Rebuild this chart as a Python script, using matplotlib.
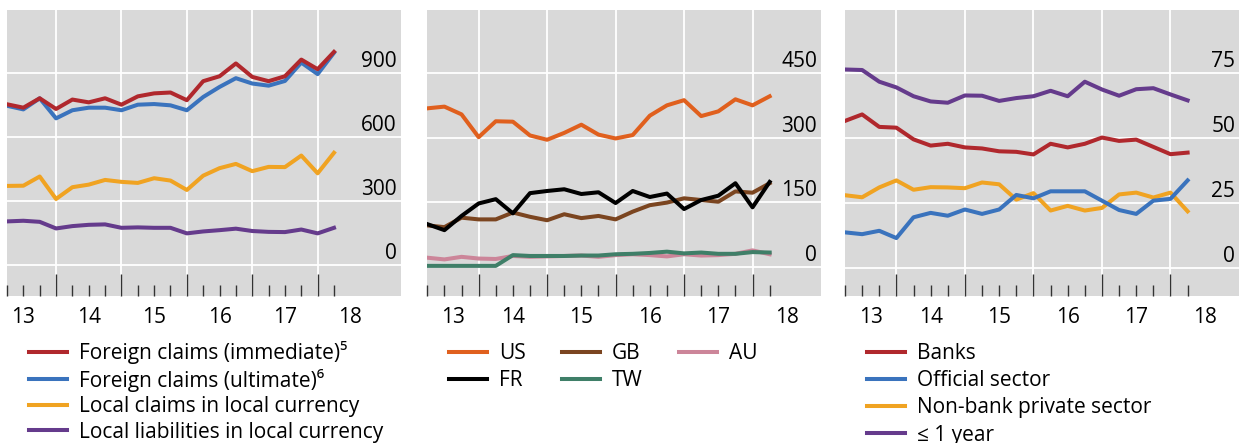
import numpy as np
import matplotlib
matplotlib.use('Agg')
import matplotlib.pyplot as plt

# fonts
FONT = 'Open Sans'
plt.rcParams['font.family'] = [FONT, 'DejaVu Sans']

# quarter-end dates 2013Q1 .. 2018Q1
dates = np.arange(2013.25, 2018.26, 0.25)
year_labels = ['13', '14', '15', '16', '17', '18']

# panel 1, USD bn
claims_immediate = [753, 737, 781, 731, 775, 762, 781, 751, 790, 804, 808, 772,
                    861, 884, 944, 881, 861, 884, 962, 917, 998]
claims_ultimate = [746, 729, 781, 687, 725, 737, 737, 725, 751, 754, 748, 725,
                   787, 834, 875, 850, 840, 862, 948, 894, 994]
local_claims = [371, 372, 415, 310, 365, 377, 399, 390, 385, 407, 396, 352,
                419, 454, 474, 440, 460, 459, 513, 430, 526]
local_liab = [205, 208, 203, 172, 183, 189, 191, 175, 177, 175, 175, 149,
              158, 164, 171, 160, 156, 155, 167, 149, 175]

# panel 2, by nationality
us = [368, 372, 354, 301, 338, 337, 305, 295, 311, 330, 307, 298,
      306, 351, 375, 387, 350, 361, 389, 375, 396]
fr = [99, 85, 118, 147, 157, 124, 171, 176, 180, 169, 173, 148,
      176, 162, 170, 134, 155, 165, 194, 138, 197]
gb = [96, 92, 114, 110, 110, 126, 116, 108, 122, 113, 118, 110,
      128, 143, 149, 159, 155, 151, 175, 172, 194]
au = [21, 17, 23, 19, 18, 25, 23, 24, 25, 26, 23, 27,
      29, 27, 24, 29, 26, 27, 30, 38, 29]
tw = [2, 2, 2, 2, 2, 27, 25, 25, 25, 26, 26, 29,
      30, 32, 35, 31, 33, 30, 30, 34, 33]

# panel 3, per cent
banks = [56.7, 59.2, 54.4, 54.1, 49.6, 47.2, 47.9, 46.5, 46.1, 45.0, 44.8, 43.8,
         47.9, 46.5, 47.9, 50.3, 49.0, 49.5, 46.7, 43.9, 44.5]
official = [13.8, 13.1, 14.4, 11.6, 19.6, 21.3, 20.2, 22.6, 20.9, 22.6, 28.2, 26.9,
            29.6, 29.6, 29.6, 26.0, 22.4, 20.9, 26.0, 26.7, 33.8]
nonbank = [28.1, 27.3, 31.1, 33.8, 30.2, 31.2, 31.1, 30.8, 33.0, 32.3, 26.4, 28.9,
           22.2, 24.0, 22.2, 23.2, 28.4, 29.1, 27.2, 29.1, 21.9]
short_term = [76.5, 76.3, 71.8, 69.6, 66.2, 64.2, 63.7, 66.5, 66.4, 64.4, 65.5, 66.2,
              68.3, 66.2, 71.8, 68.8, 66.4, 68.9, 69.3, 66.9, 64.6]

RED = '#b0282d'
BLUE = '#3a73bd'
YELLOW = '#f0a322'
PURPLE = '#653b8c'
ORANGE = '#e0601e'
BROWN = '#7b4520'
PINK = '#cc8599'
GREEN = '#3f7f68'
BLACK = '#000000'

W, H = 1244, 443
FS = 15
LW = 2.9

fig = plt.figure(figsize=(W / 100, H / 100), dpi=100)


def add_panel(px_left, px_right, ylim, yticks, xlim, label_x):
    ax = fig.add_axes([px_left / W, 1 - 296 / H, (px_right - px_left) / W, (296 - 10) / H])
    ax.set_facecolor('#d9d9d9')
    for s in ax.spines.values():
        s.set_visible(False)
    ax.set_xlim(*xlim)
    ax.set_ylim(*ylim)
    # gridlines
    for v in yticks:
        ax.axhline(v, color='white', lw=1.3, zorder=1)
    for yr in range(2014, 2019):
        ax.axvline(yr, color='white', lw=1.3, zorder=1)
    # y labels inside, on the right
    for v in yticks:
        ax.annotate(f'{v:g}', xy=(1, v), xycoords=ax.get_yaxis_transform(),
                    xytext=(-4, 6), textcoords='offset pixels',
                    ha='right', va='baseline', fontsize=FS, zorder=5)
    # ticks at quarters, drawn inward from bottom
    ax.set_yticks([])
    ax.set_xticks(list(range(2014, 2019)))
    ax.set_xticks([d for d in dates if d % 1 != 0], minor=True)
    ax.tick_params(axis='x', which='major', direction='in', length=16, width=1,
                   color='#333333', labelbottom=False)
    ax.tick_params(axis='x', which='minor', direction='in', length=8, width=1,
                   color='#333333', labelbottom=False)
    for x, lab in zip(label_x, year_labels):
        ax.annotate(lab, xy=(x, 0), xycoords=ax.get_xaxis_transform(),
                    xytext=(0, -11), textcoords='offset pixels',
                    ha='center', va='top', fontsize=FS)
    return ax


mid = [2014.5, 2015.5, 2016.5, 2017.5, 2018.5]

ax1 = add_panel(7, 400.7, (-144, 1194), [0, 300, 600, 900], (2013.25, 2019.27), [2013.5] + mid)
ax1.plot(dates, local_liab, color=PURPLE, lw=LW, label='Local liabilities in local currency', zorder=3)
ax1.plot(dates, local_claims, color=YELLOW, lw=LW, label='Local claims in local currency', zorder=3)
ax1.plot(dates, claims_ultimate, color=BLUE, lw=LW, label='Foreign claims (ultimate)\u2076', zorder=3)
ax1.plot(dates, claims_immediate, color=RED, lw=LW, label='Foreign claims (immediate)\u2075', zorder=3)

ax2 = add_panel(427.3, 821, (-68, 596.5), [0, 150, 300, 450], (2013.25, 2019.0), [2013.625] + mid)
l_au, = ax2.plot(dates, au, color=PINK, lw=LW, label='AU', zorder=3)
l_tw, = ax2.plot(dates, tw, color=GREEN, lw=LW, label='TW', zorder=3)
l_gb, = ax2.plot(dates, gb, color=BROWN, lw=LW, label='GB', zorder=3)
l_fr, = ax2.plot(dates, fr, color=BLACK, lw=LW, label='FR', zorder=3)
l_us, = ax2.plot(dates, us, color=ORANGE, lw=LW, label='US', zorder=3)

ax3 = add_panel(845, 1239, (-10.7, 99.4), [0, 25, 50, 75], (2013.25, 2019.0), [2013.625] + mid)
ax3.plot(dates, short_term, color=PURPLE, lw=LW, label='\u2264 1 year', zorder=3)
ax3.plot(dates, banks, color=RED, lw=LW, label='Banks', zorder=3)
ax3.plot(dates, nonbank, color=YELLOW, lw=LW, label='Non-bank private sector', zorder=3)
ax3.plot(dates, official, color=BLUE, lw=LW, label='Official sector', zorder=3)

leg_kw = dict(loc='upper left', frameon=False, fontsize=FS, borderpad=0, borderaxespad=0,
              handlelength=1.8, handletextpad=0.6)

h, l = ax1.get_legend_handles_labels()
fig.legend(h[::-1], l[::-1], bbox_to_anchor=(29 / W, 1 - 341 / H), labelspacing=0.22, **leg_kw)

fig.legend([l_us, l_fr, l_gb, l_tw, l_au], ['US', 'FR', 'GB', 'TW', 'AU'], ncol=3,
           columnspacing=1.75, bbox_to_anchor=(449 / W, 1 - 343 / H), labelspacing=0.3, **leg_kw)

h, l = ax3.get_legend_handles_labels()
order = [1, 3, 2, 0]
fig.legend([h[i] for i in order], [l[i] for i in order],
           bbox_to_anchor=(867 / W, 1 - 343 / H), labelspacing=0.3, **leg_kw)

fig.savefig('out.png', dpi=100)
